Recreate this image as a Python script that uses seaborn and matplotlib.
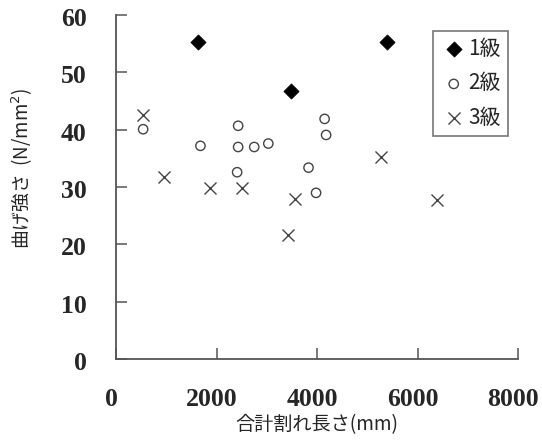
import matplotlib
matplotlib.use("Agg")
import matplotlib.pyplot as plt
import matplotlib.transforms as mtransforms
import seaborn as sns
import pandas as pd

# 合計割れ長さ (mm) と 曲げ強さ (N/mm2) — 等級別
grade1_x = [1630, 5400, 3480]
grade1_y = [55.4, 55.4, 46.8]

grade2_x = [540, 1680, 2430, 2430, 2750, 3030, 2410, 4150, 4180, 3830, 3980]
grade2_y = [40.1, 37.2, 40.7, 37.0, 37.0, 37.6, 32.6, 41.9, 39.1, 33.4, 29.0]

grade3_x = [530, 960, 1870, 2510, 3570, 5270, 6390, 3420]
grade3_y = [42.6, 31.8, 29.9, 29.9, 27.9, 35.3, 27.7, 21.7]

grade_labels = ["1級", "2級", "3級"]
x_ticks = [0, 2000, 4000, 6000, 8000]
y_ticks = [0, 10, 20, 30, 40, 50, 60]

df = pd.DataFrame({
    "length": grade1_x + grade2_x + grade3_x,
    "strength": grade1_y + grade2_y + grade3_y,
    "grade": [grade_labels[0]] * len(grade1_x)
    + [grade_labels[1]] * len(grade2_x)
    + [grade_labels[2]] * len(grade3_x),
})

sns.set_theme(style="white")
plt.rcParams["font.family"] = ["Noto Sans CJK JP", "DejaVu Sans"]

fig = plt.figure(figsize=(5.42, 4.45), dpi=100)
ax = fig.add_axes([0.214, 0.193, 0.742, 0.773])

styles = {
    "1級": dict(marker="D", s=60, color="black", edgecolor="black", linewidth=0.5),
    "2級": dict(marker="o", s=45, facecolor="none", edgecolor="#444444", linewidth=1.0),
    "3級": dict(marker="x", s=75, color="#444444", linewidth=1.0),
}
for g in grade_labels:
    sub = df[df["grade"] == g]
    sns.scatterplot(data=sub, x="length", y="strength", ax=ax, label=g,
                    legend=False, **styles[g])

ax.set_xlim(0, 8000)
ax.set_ylim(0, 60)
ax.set_xticks(x_ticks)
ax.set_yticks(y_ticks)
ax.set_xticklabels([str(t) for t in x_ticks], family="Liberation Serif",
                   fontweight="bold", fontsize=18.5)
ax.set_yticklabels([str(t) for t in y_ticks], family="Liberation Serif",
                   fontweight="bold", fontsize=18.5)
ax.tick_params(axis="both", direction="in", length=8, width=1.1,
               color="#555555", bottom=True, left=True)
ax.tick_params(axis="x", pad=21)
ax.tick_params(axis="y", pad=21)

# nudge the tick labels a few pixels (x labels left, y labels down)
dx = mtransforms.ScaledTranslation(-5 / 100, 0, fig.dpi_scale_trans)
for lbl in ax.get_xticklabels():
    lbl.set_transform(lbl.get_transform() + dx)
dy = mtransforms.ScaledTranslation(0, -2 / 100, fig.dpi_scale_trans)
for lbl in ax.get_yticklabels():
    lbl.set_transform(lbl.get_transform() + dy)

for side in ["top", "right"]:
    ax.spines[side].set_visible(False)
for side in ["left", "bottom"]:
    ax.spines[side].set_color("#555555")
    ax.spines[side].set_linewidth(1.3)

ax.set_xlabel("合計割れ長さ(mm)", fontsize=13.8, labelpad=2)
ax.set_ylabel("曲げ強さ  (N/mm$^2$)", fontsize=13.5)
ax.yaxis.set_label_coords(-0.2025, 0.555)

leg = ax.legend(loc="upper right", bbox_to_anchor=(0.975, 0.955), frameon=True,
                fancybox=False, fontsize=15, handletextpad=0.05,
                handlelength=1.3, borderpad=0.35, labelspacing=0.6,
                markerscale=1.0, borderaxespad=0)
leg.get_frame().set_edgecolor("#555555")
leg.get_frame().set_linewidth(1.2)

fig.savefig("out.png", dpi=100)
